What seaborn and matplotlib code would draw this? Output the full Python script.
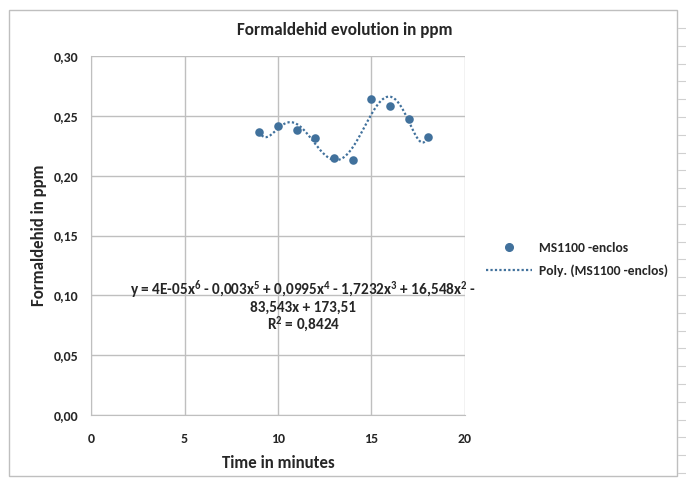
import numpy as np
import pandas as pd
import matplotlib
matplotlib.use("Agg")
import matplotlib.pyplot as plt
import seaborn as sns
from matplotlib.ticker import FuncFormatter, MultipleLocator
from matplotlib.patches import Rectangle
from matplotlib.lines import Line2D

# data
minutes = [9, 10, 11, 12, 13, 14, 15, 16, 17, 18]
ppm = [0.2365, 0.2415, 0.238, 0.2315, 0.215, 0.213, 0.264, 0.2585, 0.2475, 0.232]
series_name = "MS1100 -enclos"
trend_name = "Poly. (MS1100 -enclos)"
equation = ("y = 4E-05x$^6$ - 0,003x$^5$ + 0,0995x$^4$ - 1,7232x$^3$ + 16,548x$^2$ -\n"
            "83,543x + 173,51\nR$^2$ = 0,8424")

color = "#41719C"
text_color = "#262626"

sns.set_style("white")
plt.rcParams["font.family"] = ["Carlito", "DejaVu Sans"]
plt.rcParams["font.weight"] = "bold"
plt.rcParams["mathtext.fontset"] = "custom"
plt.rcParams["mathtext.default"] = "bf"
plt.rcParams["mathtext.bf"] = "Carlito:bold"
plt.rcParams["mathtext.rm"] = "Carlito:bold"

df = pd.DataFrame({"Time": minutes, "ppm": ppm})

# 6th order polynomial trend, like the Excel trendline
coef = np.polyfit(df["Time"], df["ppm"], 6)
xs = np.linspace(min(minutes), max(minutes), 300)
trend = pd.DataFrame({"Time": xs, "ppm": np.polyval(coef, xs)})

fig = plt.figure(figsize=(6.86, 4.79), dpi=100)
ax = fig.add_axes([0.1327, 0.1336, 0.5451, 0.7495])

sns.lineplot(data=trend, x="Time", y="ppm", ax=ax, color=color,
             linestyle=(0, (1, 1)), linewidth=1.6, zorder=3)
sns.scatterplot(data=df, x="Time", y="ppm", ax=ax, color=color,
                s=38, edgecolor=color, linewidth=0, zorder=4)

ax.set_xlim(0, 20)
ax.set_ylim(0, 0.30)
ax.xaxis.set_major_locator(MultipleLocator(5))
ax.yaxis.set_major_locator(MultipleLocator(0.05))
ax.yaxis.set_major_formatter(FuncFormatter(lambda v, p: f"{v:.2f}".replace(".", ",")))
ax.grid(True, color="#BFBFBF", linewidth=1)
for side in ax.spines:
    ax.spines[side].set_visible(False)
ax.spines["left"].set_visible(True)
ax.spines["bottom"].set_visible(True)
ax.spines["left"].set_color("#BFBFBF")
ax.spines["bottom"].set_color("#BFBFBF")
ax.tick_params(length=0, labelsize=10, labelcolor=text_color)
ax.tick_params(axis="x", pad=13)
ax.tick_params(axis="y", pad=9)
for lab in ax.get_xticklabels() + ax.get_yticklabels():
    lab.set_fontweight("bold")

ax.set_xlabel("Time in minutes", fontsize=12.2, fontweight="bold", color=text_color, labelpad=7)
ax.set_ylabel("Formaldehid in ppm", fontsize=12.2, fontweight="bold", color=text_color, labelpad=5)

fig.text(0.503, 0.937, "Formaldehid evolution in ppm", ha="center", va="center",
         fontsize=12.3, fontweight="bold", color=text_color)

ax.text(11.35, 0.091, equation, ha="center", va="center", fontsize=11,
        fontweight="bold", color=text_color, linespacing=1.02)

handles = [
    Line2D([], [], marker="o", linestyle="none", color=color, markersize=5.5),
    Line2D([], [], linestyle=(0, (1, 1)), color=color, linewidth=1.6),
]
fig.legend(handles, [series_name, trend_name], loc="center left",
           bbox_to_anchor=(0.69, 0.458), frameon=False,
           handlelength=3.4, handletextpad=0.5, labelspacing=0.75,
           prop={"family": "Carlito", "weight": "bold", "size": 9.8})
for t in fig.legends[0].get_texts():
    t.set_color(text_color)

# chart area border
fig.patches.append(Rectangle((9 / 686, 1 - 476 / 479), 668 / 686, 466 / 479,
                             transform=fig.transFigure, fill=False,
                             edgecolor="#BFBFBF", linewidth=1))
# spreadsheet cell lines at the right edge
for yy in np.arange(28, 479, 17.8):
    fig.add_artist(Line2D([678 / 686, 1], [1 - yy / 479] * 2,
                          transform=fig.transFigure, color="#D0D0D0", linewidth=0.8))

fig.savefig("out.png", dpi=100)
